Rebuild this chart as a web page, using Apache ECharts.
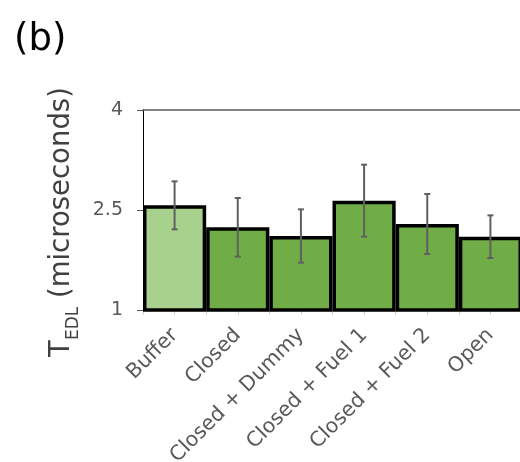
<!DOCTYPE html>
<html>
<head>
<meta charset="utf-8">
<script src="https://cdn.jsdelivr.net/npm/echarts@6/dist/echarts.min.js"></script>
<style>
  html, body { margin: 0; padding: 0; background: #fff; }
  #chart { width: 520px; height: 462px; }
</style>
</head>
<body>
<div id="chart"></div>
<script>
// Double-layer time constant per sample condition
const categories = ['Buffer', 'Closed', 'Closed + Dummy', 'Closed + Fuel 1', 'Closed + Fuel 2', 'Open'];
const meanValues = [2.57, 2.24, 2.11, 2.64, 2.29, 2.10];
const errorLow   = [2.21, 1.80, 1.71, 2.10, 1.84, 1.78];
const errorHigh  = [2.93, 2.68, 2.51, 3.18, 2.74, 2.42];
const yTicks = [1, 2.5, 4];

const barColors = ['#A9D18E', '#70AD47', '#70AD47', '#70AD47', '#70AD47', '#70AD47'];
const fontFamily = '"DejaVu Sans", Verdana, sans-serif';

const chart = echarts.init(document.getElementById('chart'), null, { renderer: 'canvas' });

// two minor ticks per category: one at each boundary, one at the centre
const halfTicks = [];
categories.forEach(() => { halfTicks.push(''); halfTicks.push(''); });

chart.setOption({
  animation: false,
  backgroundColor: '#ffffff',
  title: {
    text: '(b)',
    left: 9,
    top: 17,
    textStyle: { fontFamily, fontSize: 37, fontWeight: 'normal', color: '#000' }
  },
  grid: { left: 143, top: 110, width: 379, height: 200, containLabel: false, outerBoundsMode: 'none' },
  xAxis: [
    {
      type: 'category',
      data: categories,
      position: 'bottom',
      boundaryGap: true,
      axisLine: { show: true, lineStyle: { color: '#595959', width: 1 } },
      axisTick: { show: false },
      axisLabel: {
        rotate: 45,
        interval: 0,
        margin: 22,
        fontFamily,
        fontSize: 20.5,
        color: '#595959'
      },
      splitLine: { show: false }
    },
    {
      type: 'category',
      data: halfTicks,
      position: 'bottom',
      boundaryGap: true,
      axisLine: { show: false },
      axisTick: { show: true, length: 5, interval: 0, lineStyle: { color: '#d0d0d0', width: 1 } },
      axisLabel: { show: false },
      splitLine: { show: false }
    },
    {
      type: 'category',
      data: categories,
      position: 'top',
      axisLine: { show: true, lineStyle: { color: '#595959', width: 1.5 } },
      axisTick: { show: false },
      axisLabel: { show: false },
      splitLine: { show: false }
    }
  ],
  yAxis: {
    type: 'value',
    min: yTicks[0],
    max: yTicks[yTicks.length - 1],
    interval: yTicks[1] - yTicks[0],
    axisLine: { show: true, lineStyle: { color: '#000', width: 1 } },
    axisTick: { show: true, length: 6, lineStyle: { color: '#595959' } },
    axisLabel: { fontFamily, fontSize: 19, color: '#595959', margin: 20 },
    splitLine: { show: false },
    name: '{t|T}{s|EDL}{t| (microseconds)}',
    nameLocation: 'middle',
    nameRotate: 90,
    nameGap: 64,
    nameTextStyle: {
      padding: [0, 24, 0, 0],
      rich: {
        t: { fontFamily, fontSize: 27.5, color: '#404040', lineHeight: 34, verticalAlign: 'bottom' },
        s: { fontFamily, fontSize: 17, color: '#404040', lineHeight: 34, verticalAlign: 'bottom', padding: [0, 0, -6, 0] }
      }
    }
  },
  series: [
    {
      type: 'bar',
      xAxisIndex: 0,
      barCategoryGap: 0,
      data: meanValues.map((v, i) => ({
        value: v,
        itemStyle: { color: barColors[i], borderColor: '#000', borderWidth: 3.5 }
      })),
      z: 2
    },
    {
      type: 'custom',
      xAxisIndex: 0,
      z: 3,
      data: categories.map((c, i) => [i, errorLow[i], errorHigh[i]]),
      renderItem: function (params, api) {
        const lo = api.coord([api.value(0), api.value(1)]);
        const hi = api.coord([api.value(0), api.value(2)]);
        const cap = 3;
        const style = { stroke: '#606060', lineWidth: 2 };
        return {
          type: 'group',
          children: [
            { type: 'line', shape: { x1: hi[0], y1: hi[1], x2: lo[0], y2: lo[1] }, style },
            { type: 'line', shape: { x1: hi[0] - cap, y1: hi[1], x2: hi[0] + cap, y2: hi[1] }, style },
            { type: 'line', shape: { x1: lo[0] - cap, y1: lo[1], x2: lo[0] + cap, y2: lo[1] }, style }
          ]
        };
      }
    }
  ]
});
</script>
</body>
</html>
